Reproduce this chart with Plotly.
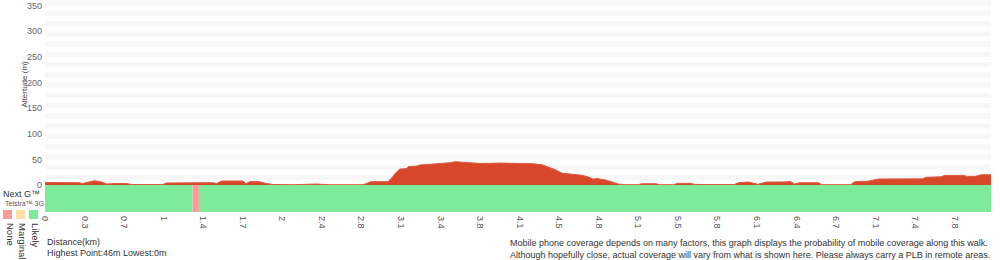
import plotly.graph_objects as go

# ---- data ----
tick_labels = ["0", "0.3", "0.7", "1", "1.4", "1.7", "2", "2.4", "2.8", "3.1", "3.4", "3.8",
               "4.1", "4.5", "4.8", "5.1", "5.5", "5.8", "6.1", "6.4", "6.7", "7.1", "7.4", "7.8"]
tick_pos = list(range(len(tick_labels)))  # evenly spaced sample ticks

# profile positions (in tick steps) and altitude (m)
prof_pos = [0.00, 0.29, 0.37, 0.87, 0.95, 1.08, 1.25, 1.43, 1.56, 1.76, 2.06, 2.19, 2.97, 3.08,
            3.73, 3.89, 4.24, 4.34, 4.47, 5.00, 5.08, 5.18, 5.43, 5.53, 5.68, 5.76, 6.27, 6.87,
            7.20, 8.04, 8.11, 8.24, 8.67, 8.77, 8.87, 8.97, 9.15, 9.18, 9.41, 9.48, 9.66, 10.06,
            10.24, 10.37, 10.57, 10.75, 11.00, 11.51, 11.84, 12.34, 12.59, 12.72, 12.90, 13.08,
            13.28, 13.53, 13.73, 13.86, 13.96, 14.16, 14.34, 14.49, 14.67, 15.00, 15.08, 15.46,
            15.53, 15.89, 15.99, 16.32, 16.42, 16.57, 17.43, 17.53, 17.78, 17.91, 18.03, 18.11,
            18.24, 18.67, 18.86, 18.95, 19.08, 19.56, 19.63, 20.37, 20.47, 20.80, 20.92, 21.08,
            22.19, 22.27, 22.65, 22.76, 23.22, 23.32, 23.54, 23.66, 23.92]
altitude = [5, 5, 4.5, 4.5, 3, 5, 8.4, 6, 2, 3, 3, 1, 1, 4,
            4, 4.5, 4.5, 3, 7.8, 7.8, 2.5, 6.5, 6.5, 4, 2.5, 1, 0.5, 2,
            0.5, 0.5, 2.5, 6.5, 6.5, 14, 24, 31, 32, 35.7, 37, 39, 40, 41.5,
            43.5, 45.5, 44.5, 42.5, 42, 42.8, 42.8, 41.5, 39, 35.7, 30, 23,
            21.5, 19.5, 16, 11.5, 12.5, 10, 6, 2, 0.6, 0.6, 2.5, 2.5,
            0.6, 0.6, 3.2, 3.2, 1.3, 1, 1, 4.5, 5.8, 3.9, 1.3, 3.2,
            5.8, 6, 6.5, 2, 4.5, 4.5, 0.6, 0.6, 6.5, 7.5, 9.7, 11.7,
            12, 14.9, 16, 18.7, 18.7, 16.8, 17, 20, 20]

# coverage segments (Next G)
cov_start = [0.00, 3.73, 3.89]
cov_end = [3.73, 3.89, 23.92]
cov_level = ["Likely", "None", "Likely"]

level_names = ["None", "Marginal", "Likely"]
level_colors = {"None": "#ff9a9a", "Marginal": "#ffe2a8", "Likely": "#7deb9a"}

y_ticks = [0, 50, 100, 150, 200, 250, 300, 350]

# ---- layout helpers ----
W, H = 1000, 260
ML, MR, MT, MB = 45, 9, 0, 48
PW, PH = W - ML - MR, H - MT - MB


def px(x):
    return (x - ML) / PW


def py(y):
    return (H - MB - y) / PH


strip_top = py(185)

fig = go.Figure()

fig.add_trace(go.Scatter(
    x=prof_pos, y=altitude, mode="lines", fill="tozeroy",
    fillcolor="#d9472a", line=dict(color="#dc5a40", width=1),
    xaxis="x", yaxis="y", hoverinfo="skip", showlegend=False))

fig.add_trace(go.Bar(
    x=[(s + e) / 2 for s, e in zip(cov_start, cov_end)],
    width=[e - s for s, e in zip(cov_start, cov_end)],
    y=[1] * len(cov_start), base=0,
    marker=dict(color=[level_colors[l] for l in cov_level], line=dict(width=0)),
    xaxis="x", yaxis="y2", hoverinfo="skip", showlegend=False))

shapes = []
for k in range(18):
    shapes.append(dict(type="rect", xref="paper", yref="y", x0=0, x1=1,
                       y0=10 + 20 * k, y1=20 + 20 * k, fillcolor="#f7f7f7",
                       line=dict(width=0), layer="below"))

# legend squares
sq_x = [(3, 12), (16, 25), (29, 38)]
for (x0, x1), name in zip(sq_x, level_names):
    shapes.append(dict(type="rect", xref="paper", yref="paper",
                       x0=px(x0), x1=px(x1), y0=py(219), y1=py(210),
                       fillcolor=level_colors[name], line=dict(width=0)))

anns = [
    dict(text="Altertude (m)", x=px(17), y=py(84), textangle=-90,
         font=dict(size=8, color="#444")),
    dict(text="Next G™", x=px(0.5), y=py(193.5), xanchor="left",
         font=dict(size=9, color="#333")),
    dict(text="Telstra™ 3G", x=px(3), y=py(203.5), xanchor="left",
         font=dict(size=7, color="#555")),
    dict(text="Distance(km)", x=px(45), y=py(242), xanchor="left",
         font=dict(size=9, color="#333")),
    dict(text="Highest Point:46m Lowest:0m", x=px(45), y=py(253), xanchor="left",
         font=dict(size=9, color="#333")),
    dict(text="Mobile phone coverage depends on many factors, this graph displays the probability of mobile coverage along this walk.<br>"
              "Although hopefully close, actual coverage will vary from what is shown here. Please always carry a PLB in remote areas.",
         x=px(508), y=py(248.5), xanchor="left", align="left",
         font=dict(size=9, color="#333")),
]
for cx, name in zip([3, 15.5, 28], level_names):
    anns.append(dict(text=name, x=px(cx), y=py(221), yanchor="top", textangle=90,
                     font=dict(size=9.5, color="#333")))
for a in anns:
    a.update(xref="paper", yref="paper", showarrow=False)
    a.setdefault("yanchor", "middle")

fig.update_layout(
    width=W, height=H,
    margin=dict(l=ML, r=MR, t=MT, b=MB),
    paper_bgcolor="white", plot_bgcolor="white",
    font=dict(family="Liberation Sans, Arial, sans-serif", color="#555"),
    showlegend=False, shapes=shapes, annotations=anns,
    xaxis=dict(range=[-0.001, 23.92], anchor="y2", tickvals=tick_pos, ticktext=tick_labels,
               tickangle=90, showgrid=False, zeroline=False, showline=False,
               ticks="", ticklabelstandoff=3, tickfont=dict(size=9, color="#555"),
               fixedrange=True),
    yaxis=dict(domain=[strip_top, 1], range=[0, 361], tickvals=y_ticks,
               showgrid=False, zeroline=False, showline=False, ticks="",
               ticklabelstandoff=2, tickfont=dict(size=9, color="#666"), fixedrange=True),
    yaxis2=dict(domain=[0, strip_top], range=[0, 1], visible=False, fixedrange=True),
)

fig.write_html("out.html")
